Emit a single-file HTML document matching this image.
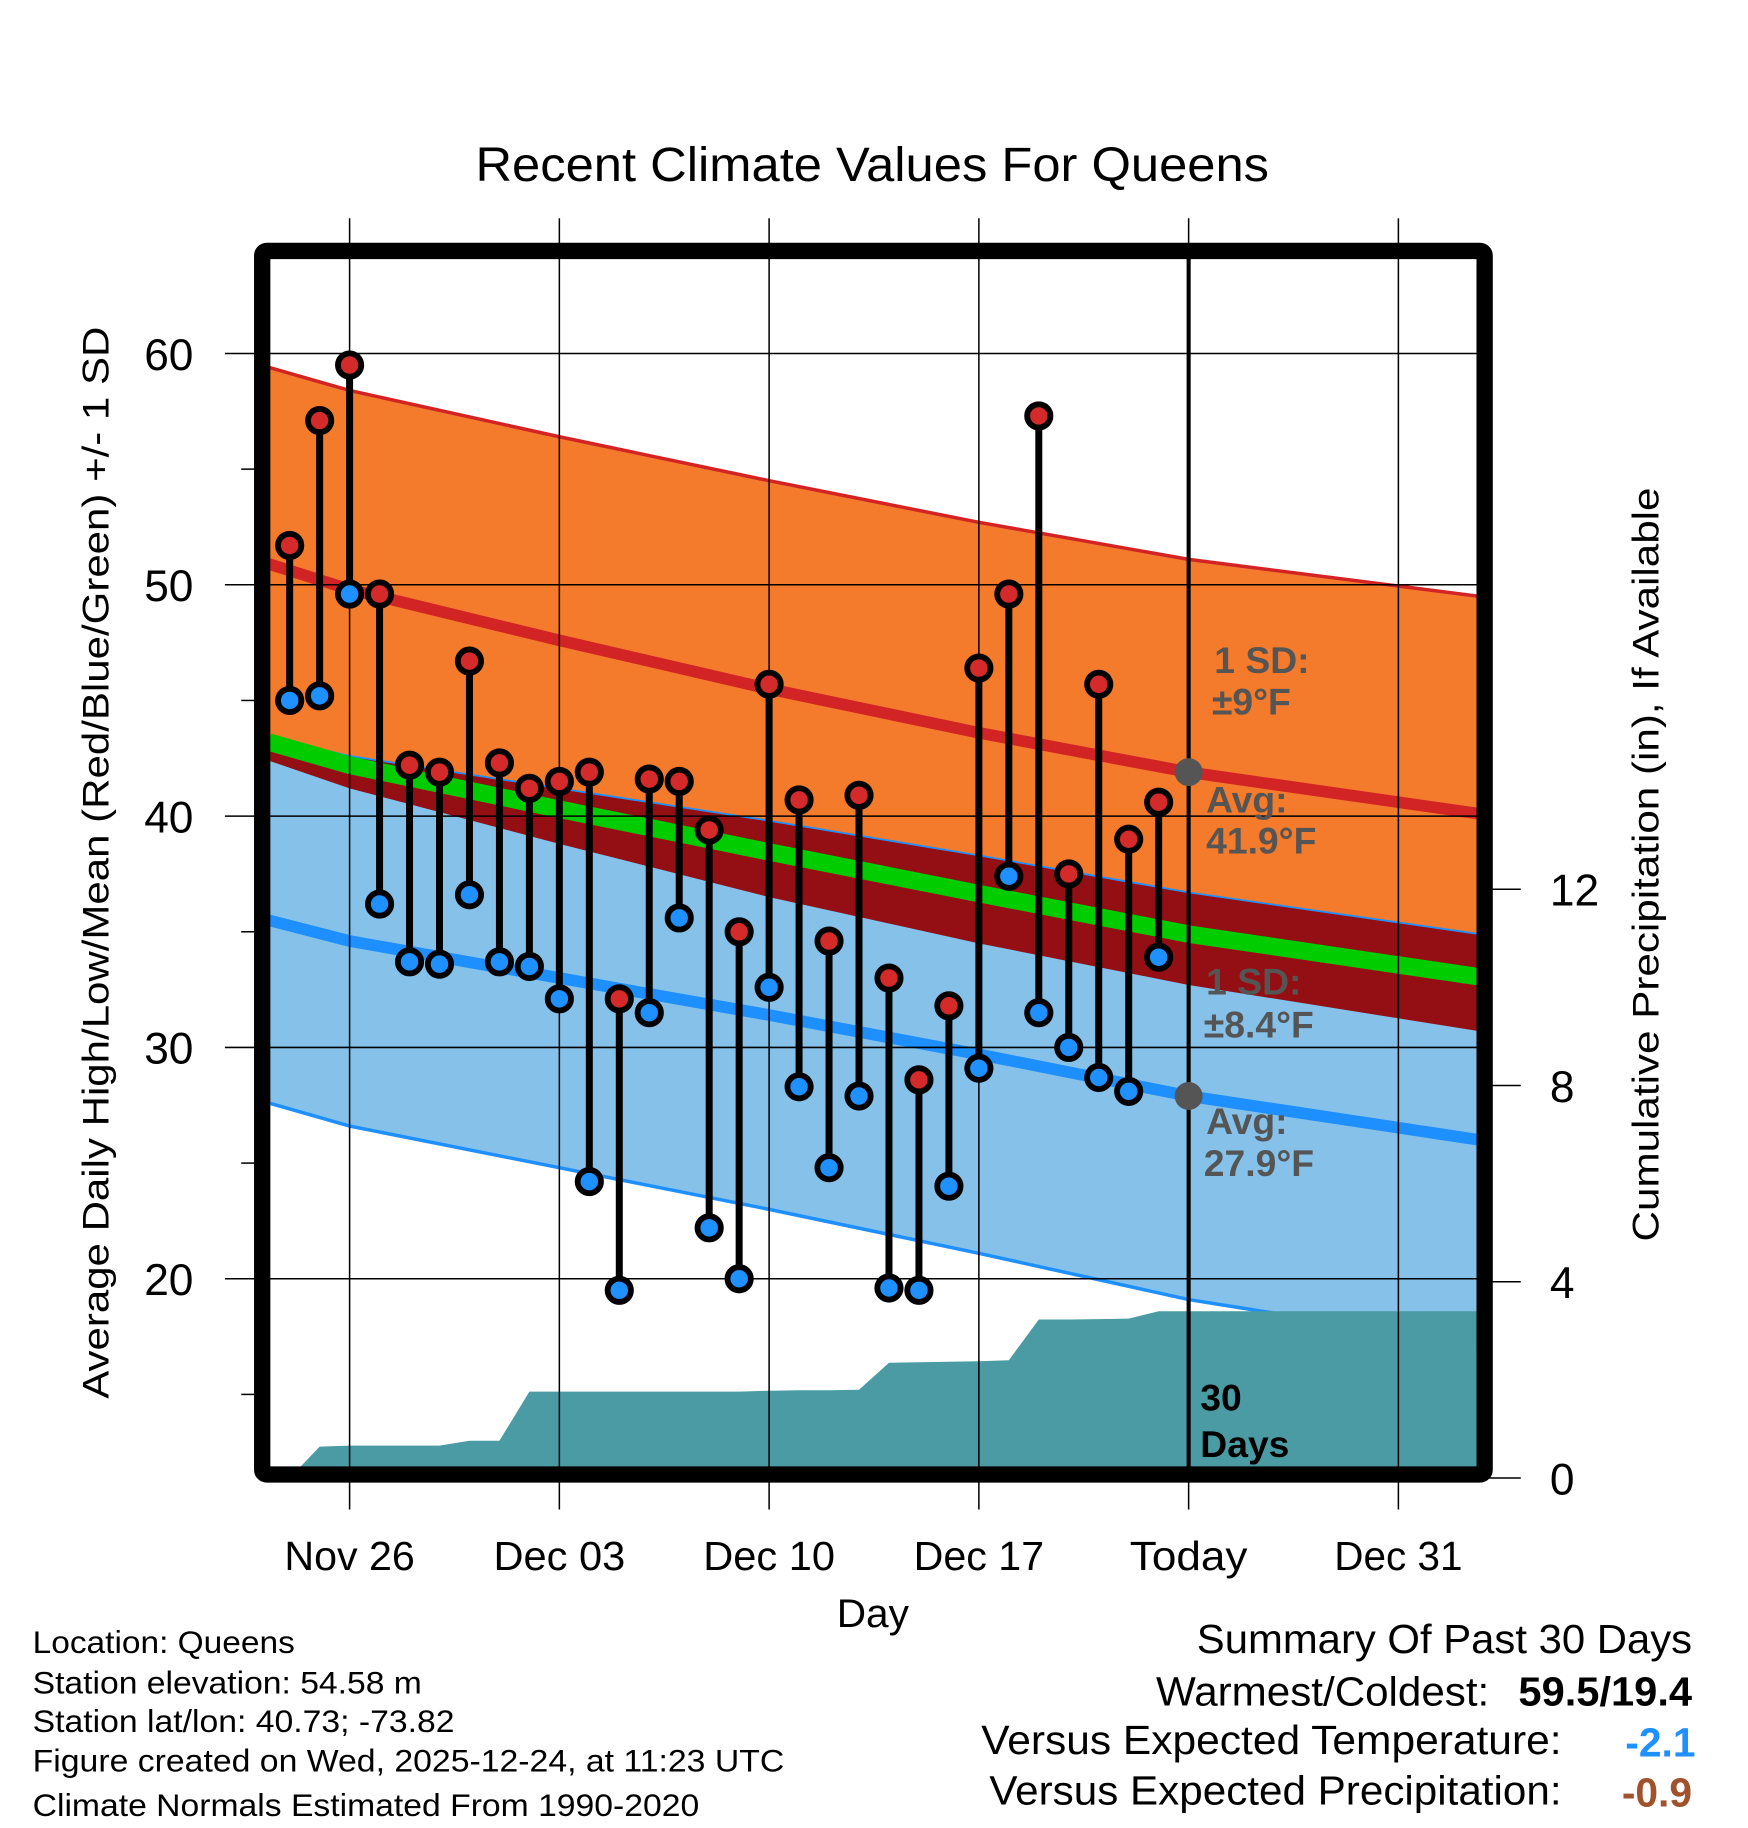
<!DOCTYPE html>
<html><head><meta charset="utf-8"><style>
html,body{margin:0;padding:0;background:#fff}
svg{display:block;font-family:"Liberation Sans",sans-serif}
</style></head><body>
<svg id="chart" width="1748" height="1828" viewBox="0 0 1500 1568" xmlns="http://www.w3.org/2000/svg">
<defs><clipPath id="pc"><rect x="231" y="221" width="1036" height="1038"/></clipPath></defs>
<text x="408" y="155" font-size="41" textLength="681" lengthAdjust="spacingAndGlyphs">Recent Climate Values For Queens</text>
<g id="bands" clip-path="url(#pc)"></g>
<g id="grid"></g>
<g id="marks" clip-path="url(#pc)"></g>
<g id="ann"></g>
<rect x="225" y="215" width="1049" height="1050" fill="none" stroke="#000" stroke-width="14" rx="4"/>
<text transform="translate(93,1200) rotate(-90)" font-size="32" textLength="920" lengthAdjust="spacingAndGlyphs">Average Daily High/Low/Mean (Red/Blue/Green) +/- 1 SD</text>
<text transform="translate(1423,1065) rotate(-90)" font-size="32" textLength="647" lengthAdjust="spacingAndGlyphs">Cumulative Precipitation (in), If Available</text>
<text x="718" y="1396" font-size="34" textLength="62" lengthAdjust="spacingAndGlyphs">Day</text>
<g font-size="27">
<text x="28" y="1418" textLength="225" lengthAdjust="spacingAndGlyphs">Location: Queens</text>
<text x="28" y="1453" textLength="334" lengthAdjust="spacingAndGlyphs">Station elevation: 54.58 m</text>
<text x="28" y="1486" textLength="362" lengthAdjust="spacingAndGlyphs">Station lat/lon: 40.73; -73.82</text>
<text x="28" y="1520" textLength="645" lengthAdjust="spacingAndGlyphs">Figure created on Wed, 2025-12-24, at 11:23 UTC</text>
<text x="28" y="1558" textLength="572" lengthAdjust="spacingAndGlyphs">Climate Normals Estimated From 1990-2020</text>
</g>
<g font-size="35">
<text x="1027" y="1418" textLength="425" lengthAdjust="spacingAndGlyphs">Summary Of Past 30 Days</text>
<text x="992" y="1463" textLength="286" lengthAdjust="spacingAndGlyphs">Warmest/Coldest:</text>
<text x="1303" y="1463" font-weight="bold" textLength="149" lengthAdjust="spacingAndGlyphs">59.5/19.4</text>
<text x="842" y="1505" textLength="498" lengthAdjust="spacingAndGlyphs">Versus Expected Temperature:</text>
<text x="1455" y="1507" text-anchor="end" font-weight="bold" fill="#1e90ff">-2.1</text>
<text x="849" y="1548" textLength="491" lengthAdjust="spacingAndGlyphs">Versus Expected Precipitation:</text>
<text x="1452" y="1550" text-anchor="end" font-weight="bold" fill="#a0522d">-0.9</text>
</g>
</svg>
<script>
const days=[-2,-1,0,1,2,3,4,5,6,7,8,9,10,11,12,13,14,15,16,17,18,19,20,21,22,23,24,25,26,27];
const highs=[51.7,57.1,59.5,49.6,42.2,41.9,46.7,42.3,41.2,41.5,41.9,32.1,41.6,41.5,39.4,35.0,45.7,40.7,34.6,40.9,33.0,28.6,31.8,46.4,49.6,57.3,37.5,45.7,39.0,40.6];
const lows=[45.0,45.2,49.6,36.2,33.7,33.6,36.6,33.7,33.5,32.1,24.2,19.5,31.5,35.6,22.2,20.0,32.6,28.3,24.8,27.9,19.6,19.5,24.0,29.1,37.4,31.5,30.0,28.7,28.1,33.9];
const precip=[0,0.64,0.66,0.66,0.66,0.66,0.76,0.76,1.76,1.76,1.76,1.76,1.76,1.76,1.76,1.76,1.78,1.79,1.79,1.80,2.35,2.36,2.37,2.38,2.40,3.23,3.23,3.24,3.25,3.40];
const normDays=[-2.7,0,7,14,21,28,37.7];
const normHigh=[50.9,49.8,47.6,45.5,43.6,41.9,40.1];
const normLow=[35.5,34.6,33.0,31.4,29.7,27.9,26.0];
const highSD=[8.5,8.6,8.8,9.0,9.1,9.2,9.4];
const lowSD=[7.9,8.0,8.2,8.4,8.6,8.8,8.9];
const yTicks=[20,30,40,50,60], yMinor=[15,25,35,45,55];
const pTicks=[0,4,8,12];
const xTickDays=[0,7,14,21,28,35];
const xTickLabels=["Nov 26","Dec 03","Dec 10","Dec 17","Today","Dec 31"];
const xTickWidths=[112,113,113,112,101,110];

const NS="http://www.w3.org/2000/svg";
const X=d=>300+d*25.714;
const Y=v=>303+(60-v)*19.85;
const P=p=>1268-p*42.1;
function mk(tag,parent,attrs){const e=document.createElementNS(NS,tag);for(const k in attrs)e.setAttribute(k,attrs[k]);document.getElementById(parent).appendChild(e);return e;}
const pts=(f)=>normDays.map((d,i)=>X(d)+","+Y(f(i))).join(" ");
const ptsR=(f)=>normDays.map((d,i)=>X(d)+","+Y(f(i))).reverse().join(" ");
const hU=i=>normHigh[i]+highSD[i], hL=i=>normHigh[i]-highSD[i];
const lU=i=>normLow[i]+lowSD[i], lL=i=>normLow[i]-lowSD[i];
const mean=i=>(normHigh[i]+normLow[i])/2;

let e;
e=mk('polygon','bands',{points:pts(hU)+" "+ptsR(hL),fill:'#f47a2c'});


e=mk('polygon','bands',{points:pts(lU)+" "+ptsR(lL),fill:'#85c1e9'});


e=mk('polygon','bands',{points:pts(lU)+" "+ptsR(hL),fill:'#930f14'});


e=mk('polyline','bands',{points:pts(lU),fill:'none',stroke:'#1e8fff','stroke-width':1.5});


e=mk('polyline','bands',{points:pts(mean),fill:'none',stroke:'#00cc00','stroke-width':15});


e=mk('polyline','bands',{points:pts(i=>normHigh[i]),fill:'none',stroke:'#d22424','stroke-width':10});


e=mk('polyline','bands',{points:pts(i=>normLow[i]),fill:'none',stroke:'#1e8fff','stroke-width':10});


e=mk('polyline','bands',{points:pts(hU),fill:'none',stroke:'#d22424','stroke-width':3});


e=mk('polyline','bands',{points:pts(lL),fill:'none',stroke:'#1e8fff','stroke-width':3});



// precipitation area
let pp=[(X(days[0])+10)+",1262"];
precip.forEach((p,i)=>{pp.push(X(days[i])+","+P(p));});
pp.push("1268,"+P(precip[precip.length-1]));pp.push("1268,1262");
e=mk('polygon','bands',{points:pp.join(" "),fill:'#4a9ba4'});



// grid
yTicks.forEach(v=>{
 e=mk('line','grid',{x1:193,x2:1280,y1:Y(v),y2:Y(v),stroke:'#000','stroke-width':1.3});
 
 
 e=mk('text','grid',{x:166,y:Y(v)+14,'font-size':38,'text-anchor':'end'});e.textContent=v;
 
 
});
yMinor.forEach(v=>{
 e=mk('line','grid',{x1:207,x2:220,y1:Y(v),y2:Y(v),stroke:'#000','stroke-width':1.3});
 
 
});
pTicks.forEach(p=>{
 e=mk('line','grid',{x1:1278,x2:1305,y1:P(p),y2:P(p),stroke:'#000','stroke-width':1.3});
 
 
 e=mk('text','grid',{x:1330,y:P(p)+14,'font-size':38});e.textContent=p;
 
 
});
xTickDays.forEach((d,i)=>{
 e=mk('line','grid',{x1:X(d),x2:X(d),y1:187,y2:1295,stroke:'#000','stroke-width':1.3});
 
 
 e=mk('text','grid',{x:X(d)-xTickWidths[i]/2,y:1347,'font-size':35,textLength:xTickWidths[i],lengthAdjust:'spacingAndGlyphs'});e.textContent=xTickLabels[i];
 
 
});

// daily stems and markers
days.forEach((d,i)=>{
 e=mk('line','marks',{x1:X(d),x2:X(d),y1:Y(highs[i]),y2:Y(lows[i]),stroke:'#000','stroke-width':6});
 
 
});
days.forEach((d,i)=>{
 e=mk('circle','marks',{cx:X(d),cy:Y(highs[i]),r:10,fill:'#d42a2a',stroke:'#000','stroke-width':5});
 
 
 e=mk('circle','marks',{cx:X(d),cy:Y(lows[i]),r:10,fill:'#1e90ff',stroke:'#000','stroke-width':5});
 
 
});
// today line
e=mk('line','marks',{x1:X(28),x2:X(28),y1:221,y2:1259,stroke:'#000','stroke-width':3.5});


e=mk('circle','marks',{cx:X(28),cy:Y(normHigh[5]),r:12,fill:'#555'});


e=mk('circle','marks',{cx:X(28),cy:Y(normLow[5]),r:12,fill:'#555'});



// annotations
const ann=[["1 SD:",1042,577,'#555'],["±9°F",1040,613,'#555'],["Avg:",1035,697,'#555'],["41.9°F",1035,732,'#555'],["1 SD:",1035,853,'#555'],["±8.4°F",1033,890,'#555'],["Avg:",1035,973,'#555'],["27.9°F",1033,1009,'#555'],["30",1030,1210,'#000'],["Days",1030,1250,'#000']];
ann.forEach(a=>{
 e=mk('text','ann',{x:a[1],y:a[2],'font-size':32,'font-weight':'bold',fill:a[3]});e.textContent=a[0];
 
 
});
</script>
</body></html>
